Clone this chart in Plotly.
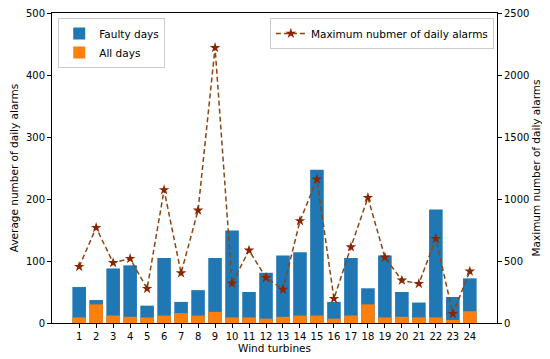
import plotly.graph_objects as go

turbines = list(range(1, 25))
faulty_days = [58, 37, 88, 93, 28, 105, 34, 53, 105, 149, 50, 81,
               109, 114, 247, 34, 105, 56, 109, 50, 33, 183, 42, 72]
all_days = [9, 30, 12, 10, 9, 12, 16, 12, 18, 9, 9, 7,
            10, 12, 12, 7, 12, 30, 9, 10, 9, 9, 5, 19]
max_alarms = [454, 769, 486, 519, 277, 1073, 403, 909, 2220, 320, 586, 366,
              271, 823, 1159, 196, 613, 1011, 530, 344, 317, 680, 75, 417]

FONT = "DejaVu Sans"
fig = go.Figure()
fig.add_trace(go.Bar(x=turbines, y=faulty_days, name="Faulty days",
                     marker=dict(color="#1f77b4", line=dict(width=0)),
                     width=0.8, legend="legend"))
fig.add_trace(go.Bar(x=turbines, y=all_days, name="All days",
                     marker=dict(color="#ff7f0e", line=dict(width=0)),
                     width=0.8, legend="legend"))
fig.add_trace(go.Scatter(x=turbines, y=max_alarms, yaxis="y2",
                         name="Maximum nubmer of daily alarms",
                         mode="lines+markers",
                         line=dict(color="#8b4513", dash="5px,3px", width=1.5),
                         marker=dict(symbol="star", size=8, color="#8b2500"),
                         legend="legend2"))

fig.update_layout(
    width=550, height=359,
    margin=dict(l=44, r=61, t=5, b=44, autoexpand=False),
    paper_bgcolor="white", plot_bgcolor="white",
    barmode="overlay",
    font=dict(family=FONT, size=10, color="black"),
    xaxis=dict(range=[-0.6, 25.6], tickmode="array", tickvals=turbines,
               ticktext=[str(t) for t in turbines], automargin=False,
               ticks="outside", ticklen=4, tickcolor="black",
               showline=True, linecolor="black", linewidth=1, mirror=True,
               showgrid=False, zeroline=False,
               title=dict(text="Wind turbines", standoff=3,
                          font=dict(size=10.5))),
    yaxis=dict(range=[0, 500], dtick=100, ticks="outside", ticklen=4,
               tickcolor="black", showline=True, linecolor="black",
               automargin=False, ticklabeloverflow="allow",
               linewidth=1, mirror=True, showgrid=False, zeroline=False,
               title=dict(text="Average number of daily alarms", standoff=5,
                          font=dict(size=10.5))),
    yaxis2=dict(range=[0, 2500], dtick=500, overlaying="y", side="right",
                ticks="outside", ticklen=4, tickcolor="black",
                showline=True, linecolor="black", linewidth=1,
                automargin=False, ticklabeloverflow="allow",
                showgrid=False, zeroline=False,
                title=dict(text="Maximum number of daily alarms", standoff=4,
                           font=dict(size=10.5))),
    legend=dict(x=0.014, y=0.984, xanchor="left", yanchor="top",
                bgcolor="rgba(255,255,255,0.8)", bordercolor="#cccccc",
                borderwidth=1, font=dict(size=10.5), tracegroupgap=0,
                itemwidth=30),
    legend2=dict(x=0.993, y=0.984, xanchor="right", yanchor="top",
                 bgcolor="rgba(255,255,255,0.8)", bordercolor="#cccccc",
                 borderwidth=1, font=dict(size=10.5), itemwidth=30),
)

fig.write_html("out.html")
